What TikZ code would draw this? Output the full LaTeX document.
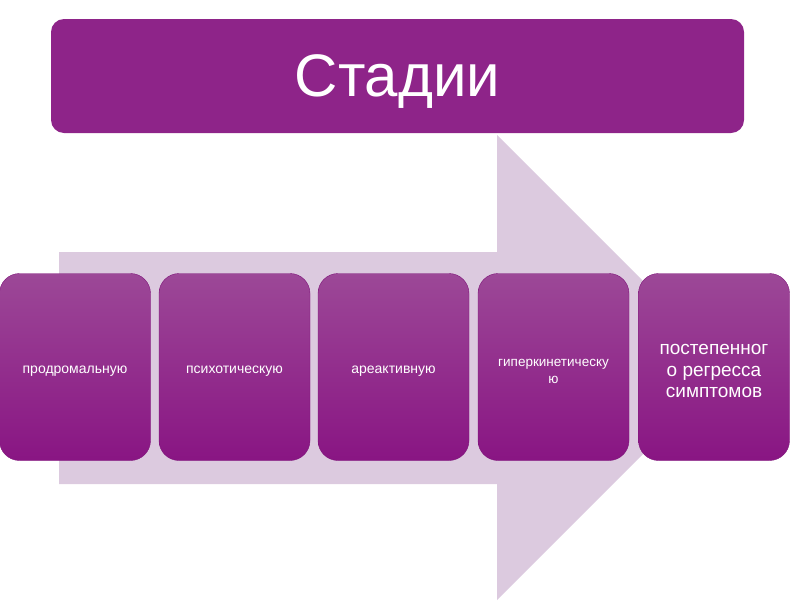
\documentclass[tikz,border=0pt]{standalone}
\usepackage{fontspec}
\setmainfont{Liberation Sans}
\definecolor{titlecol}{HTML}{8E2489}
\definecolor{arrowcol}{HTML}{DCCADF}
\definecolor{boxtop}{HTML}{9C4897}
\definecolor{boxbot}{HTML}{891583}
\definecolor{boxedge}{HTML}{7E1479}
\begin{document}
\begin{tikzpicture}[x=1pt,y=-1pt,
  stagebox/.style={rounded corners=20pt, minimum width=151pt, minimum height=187pt,
    top color=boxtop, bottom color=boxbot, draw=boxedge, line width=0.4pt, inner sep=0pt},
  stagetext/.style={text=white, align=center, inner sep=0pt, yshift=-4pt},
  titlebox/.style={rounded corners=13pt, minimum width=693pt, minimum height=114pt,
    fill=titlecol, inner sep=0pt}]
\useasboundingbox (0,0) rectangle (800,600);
% big background arrow
\fill[arrowcol] (59,252) -- (497,252) -- (497,135) -- (729.5,367.5) -- (497,600) -- (497,484) -- (59,484) -- cycle;
% title
\node[titlebox, label={[text=white, inner sep=0pt, yshift=-6pt, font=\fontsize{60}{62}\selectfont]center:Стадии}] (title) at (397.5,76) {};
% stages
\node[stagebox, label={[stagetext, font=\fontsize{14}{17}\selectfont]center:продромальную}] (s1) at (75,367) {};
\node[stagebox, label={[stagetext, font=\fontsize{14}{17}\selectfont]center:психотическую}] (s2) at (234.5,367) {};
\node[stagebox, label={[stagetext, font=\fontsize{14}{17}\selectfont]center:ареактивную}] (s3) at (393.5,367) {};
\node[stagebox, label={[stagetext, font=\fontsize{13.5}{17}\selectfont]center:{гиперкинетическу\\ю}}] (s4) at (553.5,367) {};
\node[stagebox, label={[stagetext, font=\fontsize{19}{21.5}\selectfont]center:{постепенног\\о регресса\\симптомов}}] (s5) at (714,367) {};
\end{tikzpicture}
\end{document}
